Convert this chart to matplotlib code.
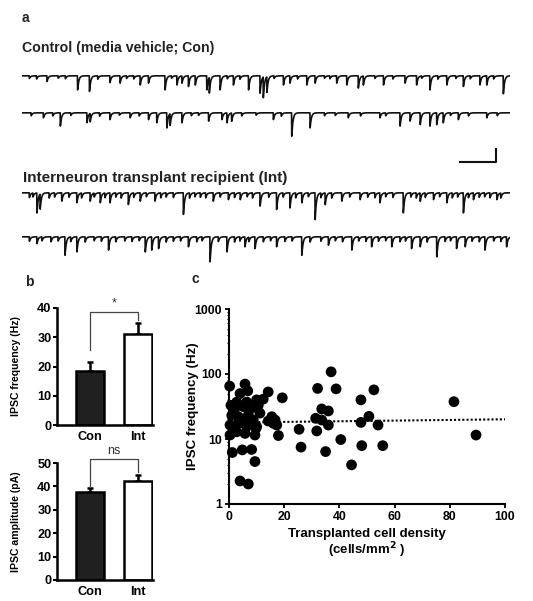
import numpy as np
import matplotlib
matplotlib.use('Agg')
import matplotlib.pyplot as plt
import matplotlib.ticker as mticker

plt.rcParams['font.family'] = ['Liberation Sans', 'DejaVu Sans']
plt.rcParams['font.weight'] = 'bold'
plt.rcParams['axes.labelweight'] = 'bold'
plt.rcParams['mathtext.default'] = 'bf'

# ---- panel a: event times (s) and amplitudes (pA) ----
con1_t = [0.69, 1.54, 1.87, 2.44, 2.72, 3.28, 3.51, 3.97, 4.30, 4.44, 4.62, 4.81,
          5.13, 5.20, 5.50, 5.87, 6.29, 6.61, 6.70, 6.80, 7.26, 7.44, 7.91, 8.14,
          8.74, 9.02, 9.34, 9.48, 10.04, 10.64, 10.96, 11.33, 11.80, 12.26, 12.72,
          12.91, 13.37,
          0.20, 0.40, 1.00, 1.20, 2.10, 2.90, 3.10, 4.15, 5.70, 6.05, 7.00, 7.65,
          8.40, 8.55, 9.80, 10.30, 11.10, 11.55, 12.05, 12.45, 13.10]
con1_a = [22, 54, 60, 26, 28, 35, 28, 54, 35, 28, 41, 35,
          54, 60, 54, 35, 54, 67, 80, 60, 35, 28, 35, 28,
          28, 35, 47, 35, 35, 28, 35, 54, 35, 41, 35,
          35, 69,
          10, 12, 9, 11, 13, 10, 12, 9, 11, 13, 10, 12,
          9, 11, 10, 12, 9, 13, 10, 11, 12]

con2_t = [0.59, 1.06, 1.80, 1.89, 2.44, 3.00, 3.51, 3.74, 4.02, 4.11, 4.44, 5.18,
          5.55, 5.69, 5.82, 6.98, 7.49, 8.00, 9.06, 9.94, 10.50, 10.78, 11.06,
          11.33, 11.52, 11.70, 12.12, 12.91,
          0.25, 0.85, 1.35, 2.15, 2.70, 3.25, 4.70, 4.90, 6.10, 6.50, 7.20, 8.40,
          8.70, 9.40, 10.10, 11.90, 12.40, 13.20]
con2_a = [19, 51, 38, 32, 26, 19, 26, 38, 58, 45, 38, 32,
          26, 38, 32, 26, 90, 58, 19, 19, 51, 32, 45,
          51, 45, 38, 26, 19,
          11, 12, 10, 13, 9, 12, 11, 10, 12, 9, 13, 11,
          10, 12, 11, 10, 12, 11]

int1_t = [0.41, 0.50, 1.10, 1.52, 1.89, 2.17, 2.44, 2.95, 3.28, 3.69, 4.48, 5.31,
          5.73, 6.06, 6.61, 7.07, 7.44, 7.77, 8.14, 8.42, 8.88, 9.39, 9.94, 10.59,
          11.06, 11.43, 11.80, 12.26, 12.54, 13.00, 13.19,
          0.20, 0.30, 0.75, 0.90, 1.30, 1.65, 2.00, 2.30, 2.60, 2.75, 3.10, 3.45,
          3.85, 4.00, 4.20, 4.65, 4.80, 4.95, 5.10, 5.50, 5.90, 6.25, 6.40, 6.85,
          7.25, 7.60, 7.95, 8.30, 8.60, 9.10, 9.60, 9.80, 10.10, 10.30, 10.80,
          10.95, 11.20, 11.60, 11.95, 12.10, 12.40, 12.70, 12.85, 13.30]
int1_a = [77, 58, 32, 38, 32, 38, 38, 45, 32, 32, 83, 32,
          26, 26, 51, 64, 58, 38, 103, 45, 32, 26, 38, 77,
          32, 26, 38, 77, 26, 19, 26,
          18, 15, 20, 16, 17, 19, 15, 18, 16, 20, 17, 15,
          19, 16, 18, 20, 15, 17, 19, 16, 18, 15, 20, 17,
          16, 19, 15, 18, 20, 16, 17, 19, 15, 18, 16,
          20, 17, 15, 19, 16, 18, 17, 15, 19]

int2_t = [0.41, 1.19, 1.52, 2.40, 3.42, 3.60, 3.79, 4.62, 5.22, 5.69, 6.19, 6.47,
          7.07, 7.77, 8.51, 9.16, 9.71, 10.27, 10.82, 11.06, 11.52, 12.07, 12.31,
          12.86, 13.46,
          0.20, 0.55, 0.80, 1.00, 1.35, 1.75, 2.00, 2.20, 2.60, 2.85, 3.05, 3.25,
          4.00, 4.20, 4.40, 4.85, 5.00, 5.45, 5.90, 6.05, 6.30, 6.70, 6.90, 7.30,
          7.50, 8.00, 8.30, 8.70, 8.90, 9.35, 9.55, 9.90, 10.10, 10.50, 10.65,
          11.25, 11.75, 11.90, 12.50, 12.70, 13.10, 13.30]
int2_a = [26, 71, 58, 51, 58, 51, 45, 38, 96, 58, 38, 45,
          38, 71, 32, 51, 38, 38, 45, 38, 77, 45, 38,
          51, 38,
          17, 15, 19, 16, 18, 20, 15, 17, 19, 16, 18, 15,
          20, 17, 16, 19, 15, 18, 20, 16, 17, 19, 15, 18,
          16, 20, 17, 15, 19, 16, 18, 17, 15, 19, 16,
          20, 18, 15, 17, 19, 16, 18]

scale_s, scale_pA = 1.0, 50.0

# ---- panel b ----
groups = ['Con', 'Int']
freq_mean = [18.5, 31.0]
freq_sem = [3.0, 4.0]
amp_mean = [37.5, 42.5]
amp_sem = [1.8, 2.3]

# ---- panel c ----
density = [0.25, 5.8, 6.8, 4.0, 14.2, 19.3, 0.7, 2.8, 6.4, 10.0, 12.4, 2.2,
           5.2, 8.2, 10.6, 11.2, 3.4, 7.0, 1.0, 15.5, 16.7, 14.2, 16.1, 17.3,
           5.2, 8.8, 3.4, 0.36, 6.4, 10.0, 2.8, 5.8, 9.4, 0.36, 17.9, 1.2,
           4.8, 8.2, 9.4, 4.0, 7.0, 9.8,
           25.4, 26.1, 32.1, 37.0, 38.8, 33.6, 36.0, 31.4, 33.6, 36.0, 31.8,
           35.0, 40.5, 44.4, 47.8, 47.8, 48.1, 52.5, 50.7, 54.0, 55.7, 81.5, 89.5]
ipsc_freq = [65, 70, 55, 50, 53, 43, 33, 37, 37, 40, 41, 30,
             31.5, 30, 33, 25, 22, 23.4, 23, 22, 19.6, 18.9, 17.4, 16.4,
             19.6, 19.6, 17.4, 16.4, 15.5, 15.5, 12.9, 12.2, 11.5, 11.5, 11.3, 6.2,
             6.8, 6.9, 4.5, 2.26, 2.03, 14.6,
             14.1, 7.5, 60, 108, 59, 29, 27, 20.8, 19.6, 16.4, 13.3,
             6.4, 9.8, 4.0, 40, 18, 7.9, 57, 22.3, 16.4, 7.9, 37.5, 11.5]
fit_x = [0, 100]
fit_y = [17.9, 20.1]

W, H = 533, 601
fig = plt.figure(figsize=(W / 100, H / 100), dpi=100)


def px_axes(l, t, r, b):
    return fig.add_axes([l / W, 1 - b / H, (r - l) / W, (b - t) / H])


def ipsc_trace(times, amps, T=13.56, dt=0.0004, tau_r=0.002, tau_d=0.032):
    t = np.arange(0, T, dt)
    y = np.zeros_like(t)
    tp = tau_d * tau_r / (tau_d - tau_r) * np.log(tau_d / tau_r)
    kmax = np.exp(-tp / tau_d) - np.exp(-tp / tau_r)
    for t0, a in zip(times, amps):
        s = t - t0
        m = s > 0
        y[m] -= a * (np.exp(-s[m] / tau_d) - np.exp(-s[m] / tau_r)) / kmax
    return t, y


txt = '#222222'
fig.text(22 / W, 1 - 18 / H, 'a', fontsize=10, color=txt, va='center')
fig.text(22 / W, 1 - 48 / H, 'Control (media vehicle; Con)', fontsize=10.2,
         color=txt, va='center')
fig.text(23 / W, 1 - 178 / H, 'Interneuron transplant recipient (Int)',
         fontsize=11, color=txt, va='center')

trace_axes = []
for base, (tt, aa) in zip([76, 113, 193, 237],
                          [(con1_t, con1_a), (con2_t, con2_a),
                           (int1_t, int1_a), (int2_t, int2_a)]):
    ax = px_axes(22, base - 9, 510, base + 31)
    t, y = ipsc_trace(tt, aa)
    ax.plot(t, y, color='#111111', lw=1.2)
    ax.set_xlim(0, 13.56)
    ax.set_ylim(-120, 34)
    ax.axis('off')
    trace_axes.append(ax)

# scale bar (1 s, 50 pA) under the control traces
sb = trace_axes[1]
sb.plot([12.17, 12.17 + scale_s, 12.17 + scale_s], [-189, -189, -189 + scale_pA],
        color='#111111', lw=1.5, clip_on=False)

# ---- panel b ----
fig.text(25 / W, 1 - 282 / H, 'b', fontsize=10, color=txt, va='center')


def bar_panel(top, bottom, means, sems, ymax, ylabel, bracket, mark):
    ax = px_axes(57, top, 153, bottom)
    ax.bar([1, 2], means, width=0.6, color=['#202020', 'white'],
           edgecolor='black', linewidth=1.8, zorder=2)
    ax.errorbar([1, 2], means, yerr=[[0, 0], sems], fmt='none', ecolor='black',
                elinewidth=1.8, capsize=2.5, capthick=1.8, zorder=1)
    ax.set_xlim(0.3125, 2.3125)
    ax.set_ylim(0, ymax)
    ax.set_yticks(np.arange(0, ymax + 1, 10))
    ax.set_xticks([1, 2])
    ax.set_xticklabels(groups)
    for s in ['top', 'right']:
        ax.spines[s].set_visible(False)
    for s in ['left', 'bottom']:
        ax.spines[s].set_linewidth(1.8)
    ax.tick_params(axis='y', length=3, width=1.5, labelsize=9.2, pad=1)
    ax.tick_params(axis='x', length=0, labelsize=9.2, pad=4)
    ax.set_ylabel(ylabel, fontsize=7.6)
    ax.yaxis.set_label_coords(-0.37, 0.5)
    yl, yt, yr = bracket
    ax.plot([1, 1, 2, 2], [yl, yt, yt, yr], color='#444444', lw=0.9,
            clip_on=False)
    ax.text(1.5, yt + ymax * 0.02, mark, ha='center', va='bottom',
            fontsize=9, fontweight='normal', color='#333333')
    return ax


bar_panel(308, 425, freq_mean, freq_sem, 40, 'IPSC frequency (Hz)',
          (25.6, 38.6, 35.9), '*')
bar_panel(463, 580, amp_mean, amp_sem, 50, 'IPSC amplitude (pA)',
          (39.7, 51.7, 46.2), 'ns')

# ---- panel c ----
fig.text(192 / W, 1 - 279 / H, 'c', fontsize=10, color=txt, va='center')
ax = px_axes(229, 309, 505, 504)
ax.set_yscale('log')
ax.scatter(density, ipsc_freq, s=60, color='black', edgecolors='none',
           clip_on=False, zorder=3)
ax.plot(fit_x, fit_y, color='black', lw=1.5, ls=(0, (1, 1)), zorder=2)
ax.set_xlim(0, 100)
ax.set_ylim(1, 1000)
ax.set_xticks([0, 20, 40, 60, 80, 100])
ax.yaxis.set_major_formatter(mticker.FuncFormatter(lambda v, p: f'{v:g}'))
ax.yaxis.set_minor_locator(mticker.LogLocator(base=10, subs=np.arange(2, 10)))
ax.yaxis.set_minor_formatter(mticker.NullFormatter())
for s in ['top', 'right']:
    ax.spines[s].set_visible(False)
for s in ['left', 'bottom']:
    ax.spines[s].set_linewidth(1.5)
ax.tick_params(which='major', length=3, width=1.3, labelsize=8.8, pad=2)
ax.tick_params(which='minor', length=1.5, width=0.8)
ax.set_ylabel('IPSC frequency (Hz)', fontsize=9.6)
ax.yaxis.set_label_coords(-0.11, 0.5)
ax.set_xlabel('Transplanted cell density\n(cells/mm$^{2}$ )', fontsize=9.5,
              labelpad=4, linespacing=1.0)

fig.savefig('out.png', dpi=100)
